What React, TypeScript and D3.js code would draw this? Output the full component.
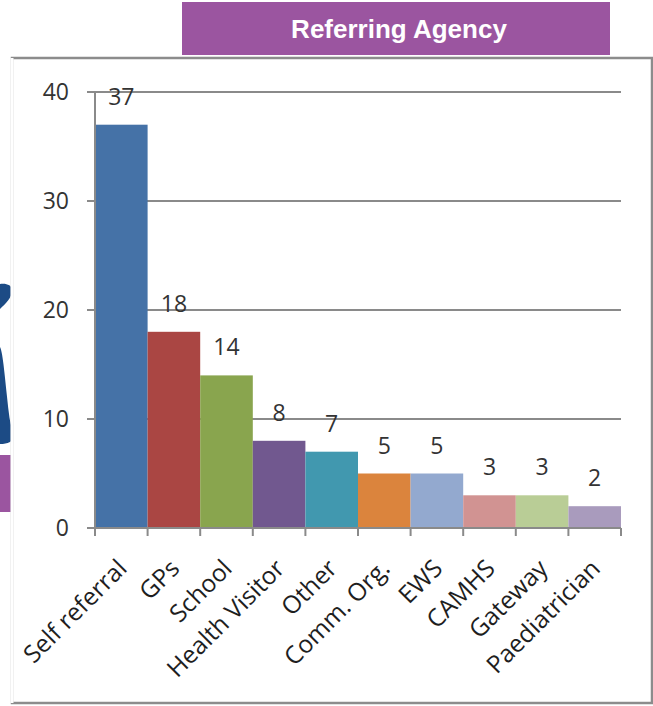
import { useEffect, useRef } from 'react';
import * as d3 from 'd3';

const categories = ['Self referral', 'GPs', 'School', 'Health Visitor', 'Other', 'Comm. Org.', 'EWS', 'CAMHS', 'Gateway', 'Paediatrician'];
const values = [37, 18, 14, 8, 7, 5, 5, 3, 3, 2];
const colors = ['#4572a7', '#aa4643', '#89a54e', '#71588f', '#4198af', '#db843d', '#93a9cf', '#d19392', '#b9cd96', '#a99bbd'];
const yTicks = [0, 10, 20, 30, 40];
const title = 'Referring Agency';

const App = () => {
  const ref = useRef<SVGSVGElement>(null);

  useEffect(() => {
    document.body.style.margin = '0';
    if (!ref.current) return;
    const svg = d3.select(ref.current);
    svg.selectAll('*').remove();

    const left = 95;
    const right = 621;
    const top = 92;
    const bottom = 528;
    const font = "'Open Sans', 'DejaVu Sans', sans-serif";

    const x = d3.scaleBand<string>().domain(categories).range([left, right]).padding(0);
    const y = d3.scaleLinear().domain([0, 40]).range([bottom, top]);

    // side decorations from the slide
    svg.append('path')
      .attr('d', 'M0,284 C6,283 12,285 12,290 C12,298 6,303 0,309 Z')
      .attr('fill', '#1c4b85');
    svg.append('path')
      .attr('d', 'M0,347 C3,352 5,380 9,414 C10,424 13,430 13,436 C13,442 8,444 0,444 Z')
      .attr('fill', '#1c4b85');
    svg.append('rect')
      .attr('x', 0).attr('y', 455).attr('width', 12).attr('height', 57)
      .attr('fill', '#9b55a0');

    // title box
    svg.append('rect')
      .attr('x', 182).attr('y', 2).attr('width', 428).attr('height', 53)
      .attr('fill', '#9b55a0');
    svg.append('text')
      .attr('x', 399).attr('y', 38)
      .attr('text-anchor', 'middle')
      .attr('fill', '#fff')
      .style('font-family', "'Liberation Sans', Arial, sans-serif")
      .style('font-weight', 'bold')
      .style('font-size', '26px')
      .text(title);

    // chart frame
    svg.append('rect')
      .attr('x', 12).attr('y', 58).attr('width', 640).attr('height', 645)
      .attr('fill', '#fff')
      .attr('stroke', '#8c8c8c').attr('stroke-width', 2.5);
    svg.append('line')
      .attr('x1', 12).attr('x2', 12).attr('y1', 58).attr('y2', 703)
      .attr('stroke', '#fff').attr('stroke-width', 3);

    // gridlines
    svg.selectAll('line.grid')
      .data(yTicks.filter(d => d > 0))
      .join('line')
      .attr('class', 'grid')
      .attr('x1', left).attr('x2', right)
      .attr('y1', d => y(d)).attr('y2', d => y(d))
      .attr('stroke', '#8a8a8a').attr('stroke-width', 2);

    // bars
    svg.selectAll('rect.bar')
      .data(values)
      .join('rect')
      .attr('class', 'bar')
      .attr('x', (_, i) => x(categories[i])!)
      .attr('y', d => y(d))
      .attr('width', x.bandwidth())
      .attr('height', d => y(0) - y(d))
      .attr('fill', (_, i) => colors[i]);

    // axes
    svg.append('line')
      .attr('x1', left).attr('x2', left).attr('y1', top).attr('y2', bottom + 8)
      .attr('stroke', '#8a8a8a').attr('stroke-width', 2);
    svg.append('line')
      .attr('x1', left - 8).attr('x2', right).attr('y1', bottom).attr('y2', bottom)
      .attr('stroke', '#8a8a8a').attr('stroke-width', 2);

    svg.selectAll('line.ytick')
      .data(yTicks)
      .join('line')
      .attr('class', 'ytick')
      .attr('x1', left - 8).attr('x2', left)
      .attr('y1', d => y(d)).attr('y2', d => y(d))
      .attr('stroke', '#8a8a8a').attr('stroke-width', 2);

    svg.selectAll('text.ylab')
      .data(yTicks)
      .join('text')
      .attr('class', 'ylab')
      .attr('x', 69)
      .attr('y', d => y(d))
      .attr('dy', '0.36em')
      .attr('text-anchor', 'end')
      .attr('fill', '#333')
      .style('font-family', font)
      .style('font-size', '23px')
      .text(d => d);

    const edges = categories.map(c => x(c)!).concat([right]);
    svg.selectAll('line.xtick')
      .data(edges)
      .join('line')
      .attr('class', 'xtick')
      .attr('x1', d => d).attr('x2', d => d)
      .attr('y1', bottom).attr('y2', bottom + 8)
      .attr('stroke', '#8a8a8a').attr('stroke-width', 2);

    // value labels
    svg.selectAll('text.val')
      .data(values)
      .join('text')
      .attr('class', 'val')
      .attr('x', (_, i) => x(categories[i])! + x.bandwidth() / 2)
      .attr('y', d => y(d) - 20)
      .attr('text-anchor', 'middle')
      .attr('fill', '#333')
      .style('font-family', font)
      .style('font-size', '23px')
      .text(d => d);

    // category labels
    svg.selectAll('text.xlab')
      .data(categories)
      .join('text')
      .attr('class', 'xlab')
      .attr('text-anchor', 'end')
      .attr('transform', d => `translate(${x(d)! + x.bandwidth() / 2 + 7},${bottom + 42}) rotate(-45)`)
      .attr('fill', '#1e1e1e')
      .style('font-family', font)
      .style('font-size', '24.5px')
      .text(d => d);
  }, []);

  return <svg ref={ref} width={653} height={706} style={{ display: 'block' }} />;
};

export default App;
